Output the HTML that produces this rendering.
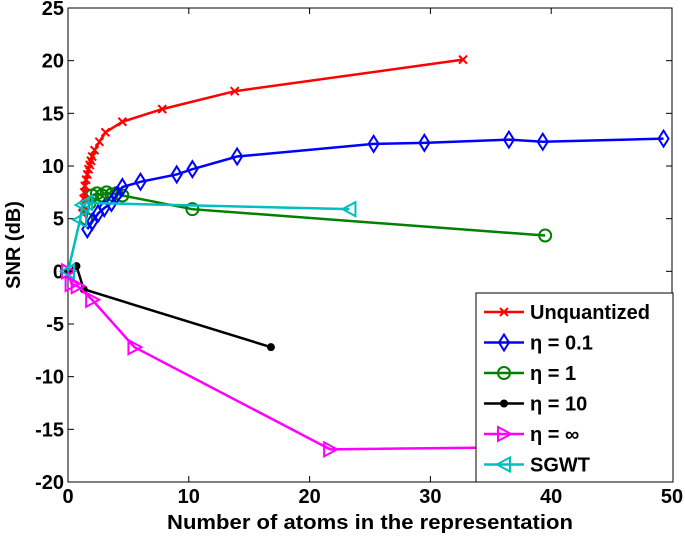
<!DOCTYPE html>
<html><head><meta charset="utf-8"><style>
body{margin:0;background:#fff}
svg text{font-family:"Liberation Sans",sans-serif;font-weight:bold}
</style></head><body>
<svg id="c" width="685" height="536"></svg>
<script>
const xTicks=[0,10,20,30,40,50];
const yTicks=[-20,-15,-10,-5,0,5,10,15,20,25];
const seriesNames=["Unquantized","η = 0.1","η = 1","η = 10","η = ∞","SGWT"];
const seriesColors=["#ff0000","#0000ff","#008000","#000000","#ff00ff","#00bfbf"];
const seriesMarkers=["x","d","o","dot","tr","tl"];
const unqX=[1.2,1.25,1.3,1.35,1.4,1.5,1.6,1.7,1.8,1.9,2.0,2.2,2.6,3.1,4.5,7.8,13.8,32.7];
const unqY=[5.5,6.2,6.9,7.5,8.1,8.7,9.2,9.7,10.1,10.5,10.9,11.5,12.3,13.2,14.2,15.4,17.1,20.1];
const b01X=[1.6,2.0,2.5,3.0,3.6,4.0,4.5,6.0,9.0,10.3,14.0,25.3,29.5,36.5,39.3,49.3];
const b01Y=[4.0,4.7,5.5,6.0,6.5,7.2,8.0,8.5,9.2,9.7,10.9,12.1,12.2,12.5,12.3,12.6];
const g1X=[1.5,1.8,2.0,2.4,2.8,3.2,3.6,4.0,4.5,10.3,39.5];
const g1Y=[5.0,6.5,7.2,7.4,7.2,7.5,7.3,7.4,7.2,5.9,3.4];
const k10X=[0,0.7,1.3,16.8];
const k10Y=[0,0.5,-1.7,-7.2];
const infX=[0,0.3,0.8,2.0,5.5,21.7,45];
const infY=[0,-1.2,-1.4,-2.7,-7.2,-16.9,-16.6];
const sgX=[0,1.0,1.2,1.5,23.3];
const sgY=[0,4.9,6.3,6.5,5.9];
const allX=[unqX,b01X,g1X,k10X,infX,sgX], allY=[unqY,b01Y,g1Y,k10Y,infY,sgY];
const L=68,R=672,T=8,B=482;
const sx=v=>L+(v-0)/(50-0)*(R-L), sy=v=>B-(v+20)/45*(B-T);
const svg=document.getElementById('c'),NS="http://www.w3.org/2000/svg";
function mk(t,a,p){const e=document.createElementNS(NS,t);for(const k in a)e.setAttribute(k,a[k]);(p||svg).appendChild(e);return e;}
function marker(type,x,y,col,g){
 const s={stroke:col,"stroke-width":2,fill:"none"};let e;
 if(type==="x"){e=mk("path",Object.assign({d:`M${x-4},${y-4}L${x+4},${y+4}M${x-4},${y+4}L${x+4},${y-4}`},s),g);}
 else if(type==="d"){e=mk("path",Object.assign({d:`M${x},${y-8}L${x+5},${y}L${x},${y+8}L${x-5},${y}Z`},s),g);}
 else if(type==="o"){e=mk("circle",Object.assign({cx:x,cy:y,r:6},s),g);}
 else if(type==="dot"){e=mk("circle",{cx:x,cy:y,r:4,fill:col},g);}
 else if(type==="tr"){e=mk("path",Object.assign({d:`M${x-6},${y-7}L${x+7},${y}L${x-6},${y+7}Z`},s),g);}
 else {e=mk("path",Object.assign({d:`M${x+6},${y-7}L${x-7},${y}L${x+6},${y+7}Z`},s),g);}
 
 
}
mk("rect",{x:L,y:T,width:R-L,height:B-T,fill:"#fff",stroke:"#000","stroke-width":1});
xTicks.forEach(v=>{const x=sx(v);
 mk("line",{x1:x,y1:B,x2:x,y2:B-6,stroke:"#000"});mk("line",{x1:x,y1:T,x2:x,y2:T+6,stroke:"#000"});
 const t=mk("text",{x:x,y:B+21,"text-anchor":"middle","font-size":20});t.textContent=v;
 
 });
yTicks.forEach(v=>{const y=sy(v);
 mk("line",{x1:L,y1:y,x2:L+6,y2:y,stroke:"#000"});mk("line",{x1:R,y1:y,x2:R-6,y2:y,stroke:"#000"});
 const t=mk("text",{x:L-4,y:y+7,"text-anchor":"end","font-size":20});t.textContent=v;
 
 });
const xt=mk("text",{x:370,y:529,"text-anchor":"middle","font-size":20,textLength:406,lengthAdjust:"spacingAndGlyphs"});xt.textContent="Number of atoms in the representation";


const yt=mk("text",{x:0,y:0,"text-anchor":"middle","font-size":20,transform:`translate(20,${sy(2.5)}) rotate(-90)`});yt.textContent="SNR (dB)";


const order=[2,1,0,3,4,5];
order.forEach(i=>{const g=mk("g",{});
 
 
 const pts=allX[i].map((v,j)=>sx(v)+","+sy(allY[i][j])).join(" ");
 mk("polyline",{points:pts,fill:"none",stroke:seriesColors[i],"stroke-width":2.5},g);
 allX[i].forEach((v,j)=>marker(seriesMarkers[i],sx(v),sy(allY[i][j]),seriesColors[i],g));
});
const lg=mk("g",{});


mk("rect",{x:476,y:293,width:197,height:189,fill:"#fff",stroke:"#000"},lg);
seriesNames.forEach((n,i)=>{const y=312+i*30.5;const e=mk("g",{},lg);
 
 
 mk("line",{x1:484,y1:y,x2:524,y2:y,stroke:seriesColors[i],"stroke-width":2.5},e);
 marker(seriesMarkers[i],504,y,seriesColors[i],e);
 const t=mk("text",{x:530,y:y+7,"font-size":20},e);t.textContent=n;});
</script>
</body></html>
